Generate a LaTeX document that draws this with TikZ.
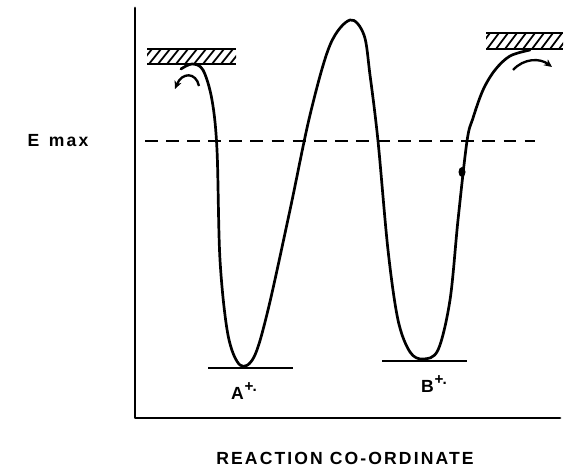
\documentclass[tikz,border=0pt]{standalone}
\usepackage{fontspec}
\setmainfont{Liberation Sans}[LetterSpace=12]
\usetikzlibrary{arrows.meta, positioning, calc}

\newcommand{\radcat}{{\fontsize{13}{13}\selectfont\raisebox{1.0ex}{\kern0.05em+\kern-0.05em.}}}

\begin{document}
\begin{tikzpicture}[
    x=0.03cm, y=-0.03cm,
    ink/.style={line width=2.3pt, line cap=round, line join=round},
    lvl/.style={line width=2pt},
    hatch/.style={line width=1.5pt},
    lbl/.style={font=\fontsize{15}{17}\selectfont\bfseries, inner sep=0pt},
    tip/.style={-{Stealth[length=2.4mm, width=2.2mm]}, line width=2pt}
  ]
    \useasboundingbox (0,0) rectangle (565,472);

    % axes
    \coordinate (ytop) at (135,8);
    \coordinate (orig) at (135,418);
    \coordinate (xend) at (560,418);
    \draw[ink] (ytop) -- (orig) -- (xend);

    % hatched levels (left and right)
    \coordinate (hlA) at (147,49);
    \coordinate (hlB) at (236,64);
    \coordinate (hrA) at (486,33);
    \coordinate (hrB) at (563,49);
    \begin{scope}
      \clip (hlA) rectangle (hlB);
      \foreach \i in {140,149,...,250}
        \draw[hatch] (\i,64) -- (\i+12,49);
    \end{scope}
    \begin{scope}
      \clip (hrA) rectangle (hrB);
      \foreach \i in {478,487,...,570}
        \draw[hatch] (\i,49) -- (\i+12,33);
    \end{scope}
    \draw[lvl] (hlA) -- (hlA -| hlB);
    \draw[lvl] (hlA |- hlB) -- (hlB);
    \draw[lvl] (hrA) -- (hrA -| hrB);
    \draw[lvl] (hrA |- hrB) -- (hrB);

    % E max
    \node[lbl] (emax) at (58,141) {E\hspace{0.55em}max};
    \coordinate (dashL) at (145,141);
    \coordinate (dashR) at (535,141);
    \draw[lvl, dash pattern=on 11pt off 7pt] (dashL) -- (dashR);

    % potential curve
    \draw[ink] plot[smooth, tension=0.55] coordinates {
      (181,69) (192,64) (203,70) (212,100) (217,150) (220,260)
      (228,335) (240,365) (254,357) (268,310) (290,210) (310,115)
      (330,45) (350,20) (364,35) (370,75) (378,141) (388,250) (398,320)
      (410,352) (423,359) (438,350) (450,300) (458,220) (467,141)
      (473,118) (483,90) (495,70) (510,56) (530,50)};
    \fill (462,172) ellipse (3.5 and 5);

    % minima
    \coordinate (mA1) at (208,368);
    \coordinate (mA2) at (293,368);
    \coordinate (mB1) at (382,361);
    \coordinate (mB2) at (467,361);
    \draw[lvl] (mA1) -- (mA2);
    \draw[lvl] (mB1) -- (mB2);
    \node[lbl] (labA) at (244,391) {A\radcat};
    \node[lbl] (labB) at (434,384) {B\radcat};

    % small arrows
    \draw[tip] (199,86) .. controls (196,72) and (182,72) .. (175,89);
    \draw[tip] (513,70) .. controls (524,58) and (540,58) .. (552,67);

    % axis label
    \node[lbl] (xlab) at (345,458) {REACTION CO-ORDINATE};
\end{tikzpicture}
\end{document}
